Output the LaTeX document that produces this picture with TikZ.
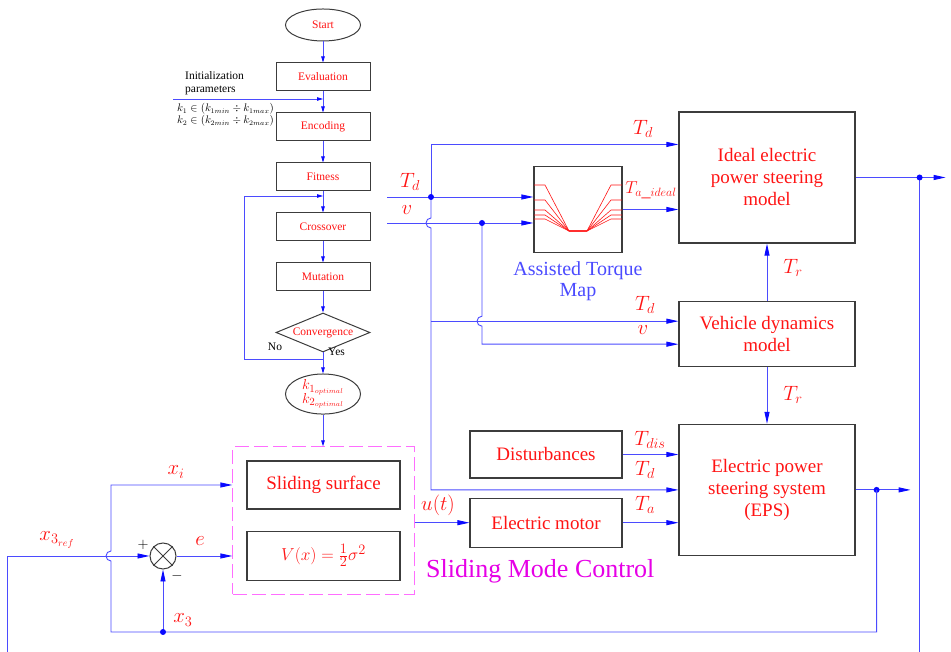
\documentclass[tikz,border=0pt]{standalone}
\usepackage{fontspec}
\setmainfont{Liberation Serif}
\usetikzlibrary{arrows.meta,positioning,calc,fit,shapes.geometric}
\definecolor{eBlue}{RGB}{75,75,255}
\definecolor{eTip}{RGB}{10,10,255}
\definecolor{eRed}{RGB}{255,20,20}
\definecolor{eGrey}{RGB}{60,60,60}
\definecolor{eMag}{RGB}{230,0,230}
\definecolor{eDash}{RGB}{255,110,255}
\tikzset{
  blk/.style={draw=eGrey, line width=1.2pt, text=eRed, align=center,
              font=\fontsize{19}{22}\selectfont, inner sep=0pt},
  stp/.style={draw=eGrey, line width=1pt, text=eRed, align=center,
              font=\fontsize{11.5}{13}\selectfont, minimum width=94pt,
              minimum height=28pt, inner sep=0pt},
  term/.style={stp, ellipse, minimum width=75pt, minimum height=32pt},
  dec/.style={stp, diamond, aspect=2.4, minimum height=39pt},
  ar/.style={-{Triangle[length=12pt,width=5pt,color=eTip]}, draw=eBlue, line width=0.9pt},
  arf/.style={-{Triangle[length=6pt,width=3.5pt,color=eTip]}, draw=eBlue, line width=0.8pt},
  ln/.style={draw=eBlue, line width=0.9pt},
  lbl/.style={text=eRed, font=\fontsize{20}{24}\selectfont, inner sep=0pt},
  note/.style={font=\fontsize{11.5}{13}\selectfont, inner sep=0pt},
  jdot/.style={circle, fill=eTip, inner sep=0pt, minimum size=6pt},
  map/.style={draw=eRed, line width=0.6pt},
}
\begin{document}
\begin{tikzpicture}[x=1pt, y=1pt, node distance=21pt]
\useasboundingbox (0,0) rectangle (951,652);
\coordinate (bot) at (0,0);

\node[term] (start) at (323,627) {Start};
\node[stp, below=of start] (eval) {Evaluation};
\node[stp, below=of eval] (enc) {Encoding};
\node[stp, below=of enc] (fitn) {Fitness};
\node[stp, below=of fitn] (cross) {Crossover};
\node[stp, below=of cross] (mut) {Mutation};
\node[dec, below=of mut] (conv) {Convergence};
\node[term, below=of conv, minimum height=35pt, font=\fontsize{15}{14}\selectfont]
  (kopt) {$k_{1_{optimal}}$\\[-3pt]$k_{2_{optimal}}$};
\node[note, align=left, anchor=south west] (ini) at (185,557) {Initialization\\parameters};
\node[note, align=left, anchor=north west, font=\fontsize{10.5}{12}\selectfont]
  (krng) at (177,549) {$k_1\in(k_{1min}\div k_{1max})$\\$k_2\in(k_{2min}\div k_{2max})$};
\node[note, anchor=south] (no) at (275,301) {No};
\node[note, anchor=north west] (yes) at (328,304) {Yes};

\node[blk, minimum width=176pt, minimum height=131pt] (ideal) at (767,474.5)
  {Ideal electric\\power steering\\model};
\node[blk, minimum width=176pt, minimum height=65pt, below=57pt of ideal]
  (veh) {Vehicle dynamics\\model};
\node[blk, minimum width=176pt, minimum height=131pt, below=57pt of veh]
  (eps) {Electric power\\steering system\\(EPS)};
\node[draw=eGrey, line width=1.2pt, minimum width=88pt, minimum height=86pt] (atm) at (578,442.5) {};
\node[align=center, text=eBlue, font=\fontsize{20}{21}\selectfont, inner sep=0pt,
      below=8pt of atm] (atmlbl) {Assisted Torque\\Map};
\node[blk, minimum width=152pt, minimum height=47pt] (dist) at (546,197.5) {Disturbances};
\node[blk, minimum width=152pt, minimum height=49pt, below=19pt of dist] (motor) {Electric motor};
\node[blk, minimum width=153pt, minimum height=48pt] (ss) at (323.5,167) {Sliding surface};
\node[blk, minimum width=153pt, minimum height=49pt, below=21pt of ss]
  (lyap) {$V(x)=\frac{1}{2}\sigma^2$};
\node[draw=eDash, line width=1pt, dash pattern=on 14pt off 5pt, inner sep=13.5pt,
      fit=(ss)(lyap)] (smc) {};
\node[text=eMag, font=\fontsize{26}{28}\selectfont, inner sep=0pt, anchor=west]
  (smclbl) at (426,81) {Sliding Mode Control};
\node[circle, draw=eGrey, line width=1pt, minimum size=26pt, inner sep=0pt] (sum) at (163,96) {};
\draw[eGrey, line width=1pt] (sum.45) -- (sum.225) (sum.135) -- (sum.315);

\foreach \h in {24.5,9.5,-0.5,-5.5,-9.5}
  \draw[map] ($(atm.center)+(-44,\h)$) -- ++(11,0) -- ($(atm.center)+(-9,-21.5)$)
    -- ($(atm.center)+(9,-21.5)$) -- ($(atm.center)+(33,\h)$) -- ++(11,0);

\draw[arf] (start) -- (eval);
\draw[arf] (eval) -- (enc);
\draw[arf] (enc) -- (fitn);
\draw[arf] (fitn) -- (cross);
\draw[arf] (cross) -- (mut);
\draw[arf] (mut) -- (conv);
\draw[arf] (conv) -- (kopt);
\draw[arf] (kopt) -- (kopt |- smc.north);
\coordinate (inl) at (173,553);
\draw[arf] (inl) -- (inl -| eval.south);
\coordinate (nob) at ([yshift=-7pt]conv.south);
\coordinate (lp) at (244,456);
\draw[arf] (nob) -| (lp) -- (lp -| cross.north);

\coordinate (tdin) at (387,455);
\coordinate (vin) at (387,429);
\coordinate (j1) at (431,455);
\coordinate (j2) at (482,429);
\coordinate (vtd) at ([yshift=12.5pt]veh.west);
\coordinate (vv) at ([yshift=-10.5pt]veh.west);
\draw[ar] (tdin) -- (tdin -| atm.west);
\draw[ar] (vin) -- (vin -| atm.west);
\draw[ar] (j1) |- ($(ideal.north west)!0.25!(ideal.south west)$);
\draw[ar] (atm.east) -- (atm.east -| ideal.west);
\draw[ar] (j1) -- ([yshift=5pt]j1 |- vin) arc[start angle=90, end angle=270, radius=5pt] |- (eps.west);
\draw[ar] (j1 |- vtd) -- (vtd);
\draw[ar] (j2) -- ([yshift=5pt]j2 |- vtd) arc[start angle=90, end angle=270, radius=5pt] |- (vv);
\draw[ar] (veh) -- (ideal);
\draw[ar] (veh) -- (eps);
\draw[ar] (dist.east) -- (dist.east -| eps.west);
\draw[ar] (motor.east) -- (motor.east -| eps.west);
\draw[ar] (smc.east |- motor.west) -- (motor.west);
\node[jdot] (d1) at (j1) {};
\node[jdot] (d2) at (j2) {};

\coordinate (oid) at ([xshift=90pt]ideal.east);
\coordinate (odot) at ([xshift=64pt]ideal.east);
\draw[ar] (ideal.east) -- (oid);
\draw[ln] (odot) -- (odot |- bot);
\node[jdot] (d3) at (odot) {};
\coordinate (oeps) at ([xshift=55pt]eps.east);
\coordinate (fbk) at ([xshift=21pt]eps.east);
\draw[ar] (eps.east) -- (oeps);
\node[jdot] (d4) at (fbk) {};
\coordinate (xb) at (111,20);
\draw[ar] (fbk) |- (xb) -- ([yshift=-5pt]xb |- sum) arc[start angle=-90, end angle=-270, radius=5pt]
  |- (smc.west |- ss.west);
\draw[ar] (sum |- xb) -- (sum.south);
\node[jdot] (d5) at (sum |- xb) {};
\coordinate (xref) at (7,0);
\draw[ar] (xref) |- (sum.west);
\draw[ar] (sum.east) -- (sum.east -| smc.west);

\node[lbl] (ltd1) at (410,470) {$T_d$};
\node[lbl] (lv1) at (407,442) {$v$};
\node[lbl] (ltd2) at (643,523) {$T_d$};
\node[lbl, font=\fontsize{18}{22}\selectfont] (ltai) at (651,462) {$T_{a\_ideal}$};
\node[lbl] (ltr1) at (793,384) {$T_r$};
\node[lbl] (ltr2) at (793,257) {$T_r$};
\node[lbl] (ltd3) at (645,347) {$T_d$};
\node[lbl] (lv2) at (643,322) {$v$};
\node[lbl] (ltdis) at (650,212) {$T_{dis}$};
\node[lbl] (ltd4) at (645,182) {$T_d$};
\node[lbl] (lta) at (645,147) {$T_a$};
\node[lbl] (lu) at (438,147) {$u(t)$};
\node[lbl] (lxi) at (176,180) {$x_i$};
\node[lbl] (lxr) at (57,112) {$x_{3_{ref}}$};
\node[lbl] (le) at (200,111) {$e$};
\node[lbl] (lx3) at (183,32) {$x_3$};
\node[note, font=\fontsize{14}{14}\selectfont] (plus) at (143,107) {$+$};
\node[note, font=\fontsize{14}{14}\selectfont] (minus) at (177,76) {$-$};
\end{tikzpicture}
\end{document}
